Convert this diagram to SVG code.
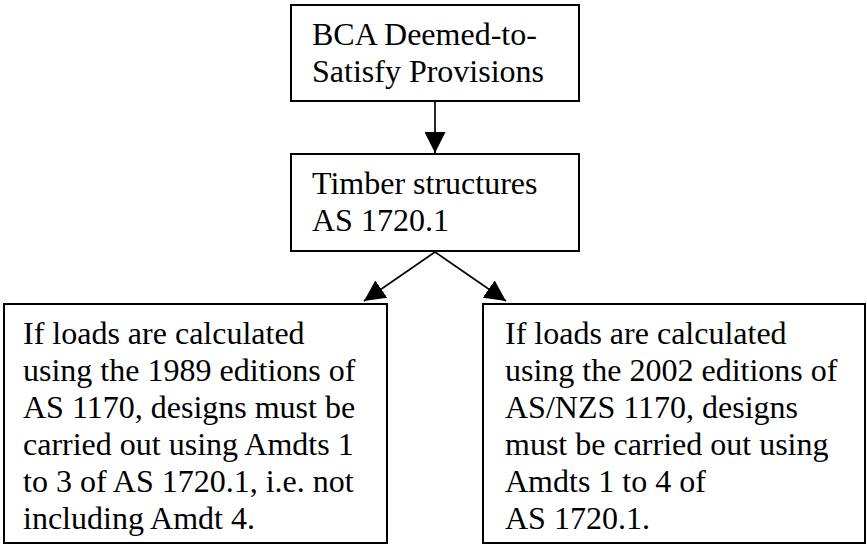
<svg xmlns="http://www.w3.org/2000/svg" width="867" height="545" viewBox="0 0 867 545">
  <style>
    .box { fill: #ffffff; stroke: #000000; stroke-width: 2; }
    .label { font-family: "Liberation Serif", "Times New Roman", serif; font-size: 32px; fill: #000000; }
    .link { fill: none; stroke: #000000; stroke-width: 1.7; }
  </style>
  <defs>
    <marker id="arrow" markerUnits="userSpaceOnUse" markerWidth="21" markerHeight="21" viewBox="0 0 20 20" refX="20" refY="10" orient="auto">
      <path d="M0,0 L20,10 L0,20 Z" fill="#000000"/>
    </marker>
  </defs>
  <rect width="867" height="545" fill="#ffffff"/>

  <g id="connectors">
    <line class="link" x1="435" y1="101" x2="435" y2="153" marker-end="url(#arrow)"/>
    <line class="link" x1="435" y1="252" x2="364" y2="301" marker-end="url(#arrow)"/>
    <line class="link" x1="435" y1="252" x2="506" y2="301" marker-end="url(#arrow)"/>
  </g>

  <g id="bca-provisions">
    <rect class="box" x="291" y="5" width="288" height="96"/>
    <text class="label" x="312" y="45">BCA Deemed-to-</text>
    <text class="label" x="312" y="82">Satisfy Provisions</text>
  </g>

  <g id="timber-structures">
    <rect class="box" x="291" y="154" width="288" height="97"/>
    <text class="label" x="312" y="194">Timber structures</text>
    <text class="label" x="312" y="231">AS 1720.1</text>
  </g>

  <g id="loads-1989">
    <rect class="box" x="4" y="304" width="383" height="239"/>
    <text class="label" x="23" y="344">If loads are calculated</text>
    <text class="label" x="23" y="381">using the 1989 editions of</text>
    <text class="label" x="23" y="418">AS 1170, designs must be</text>
    <text class="label" x="23" y="455">carried out using Amdts 1</text>
    <text class="label" x="23" y="492">to 3 of AS 1720.1, i.e. not</text>
    <text class="label" x="23" y="529">including Amdt 4.</text>
  </g>

  <g id="loads-2002">
    <rect class="box" x="483" y="304" width="382" height="239"/>
    <text class="label" x="505" y="344">If loads are calculated</text>
    <text class="label" x="505" y="381">using the 2002 editions of</text>
    <text class="label" x="505" y="418">AS/NZS 1170, designs</text>
    <text class="label" x="505" y="455">must be carried out using</text>
    <text class="label" x="505" y="492">Amdts 1 to 4 of</text>
    <text class="label" x="505" y="529">AS 1720.1.</text>
  </g>
</svg>
